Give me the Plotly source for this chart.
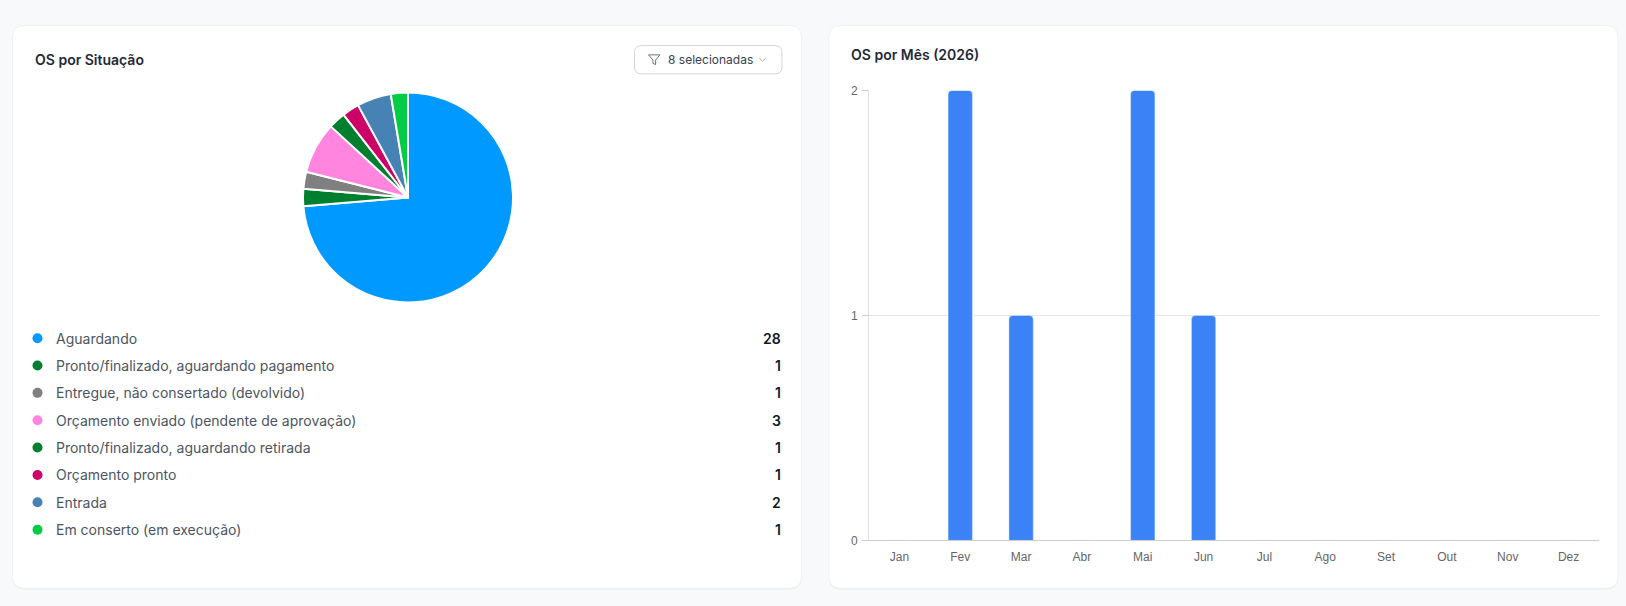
import plotly.graph_objects as go

# --- data ---
situacoes = [
    "Aguardando",
    "Pronto/finalizado, aguardando pagamento",
    "Entregue, não consertado (devolvido)",
    "Orçamento enviado (pendente de aprovação)",
    "Pronto/finalizado, aguardando retirada",
    "Orçamento pronto",
    "Entrada",
    "Em conserto (em execução)",
]
qtd_situacao = [28, 1, 1, 3, 1, 1, 2, 1]
cores_situacao = ["#0099ff", "#007f2e", "#808080", "#ff85de",
                  "#007f2e", "#cc0066", "#4682b4", "#00cc44"]

meses = ["Jan", "Fev", "Mar", "Abr", "Mai", "Jun",
         "Jul", "Ago", "Set", "Out", "Nov", "Dez"]
qtd_mes = [0, 2, 1, 0, 2, 1, 0, 0, 0, 0, 0, 0]

BG = "#f8f9fb"
W, H = 1626, 606


def px(x):
    return x / W


def py(y):
    # y in pixels from top
    return 1 - y / H


def rounded_rect(x0, y0, x1, y1, r):
    X = lambda v: f"{px(v):.6f}"
    Y = lambda v: f"{py(v):.6f}"
    return (f"M{X(x0+r)},{Y(y0)} L{X(x1-r)},{Y(y0)} Q{X(x1)},{Y(y0)} {X(x1)},{Y(y0+r)} "
            f"L{X(x1)},{Y(y1-r)} Q{X(x1)},{Y(y1)} {X(x1-r)},{Y(y1)} L{X(x0+r)},{Y(y1)} "
            f"Q{X(x0)},{Y(y1)} {X(x0)},{Y(y1-r)} L{X(x0)},{Y(y0+r)} Q{X(x0)},{Y(y0)} {X(x0+r)},{Y(y0)} Z")


fig = go.Figure()

# pie
fig.add_trace(go.Pie(
    labels=situacoes, values=qtd_situacao, sort=False, direction="clockwise",
    rotation=0, textinfo="none", hoverinfo="label+value",
    marker=dict(colors=cores_situacao, line=dict(color="white", width=2)),
    domain=dict(x=[px(300.5), px(515.5)], y=[py(302.5), py(87.5)]),
    showlegend=False,
))

# bars
fig.add_trace(go.Bar(
    x=meses, y=qtd_mes, marker=dict(color="#3b82f6", cornerradius=4),
    width=0.4, xaxis="x", yaxis="y", showlegend=False, hoverinfo="x+y",
))

# legend list of the pie (dots on a pixel overlay axis)
row_y = [339 + 28 * i for i in range(len(situacoes))]
fig.add_trace(go.Scatter(
    x=[37.5] * len(situacoes), y=row_y, mode="markers",
    marker=dict(color=cores_situacao, size=10),
    xaxis="x3", yaxis="y3", showlegend=False, hoverinfo="skip",
))

annotations = []
for nome, qtd, yy in zip(situacoes, qtd_situacao, row_y):
    annotations.append(dict(
        x=53.5, y=yy, xref="x3", yref="y3", text=nome, showarrow=False,
        xanchor="left", yanchor="middle",
        font=dict(family="Inter", size=14, color="#4b5563")))
    annotations.append(dict(
        x=783, y=yy, xref="x3", yref="y3", text=str(qtd), showarrow=False,
        xanchor="right", yanchor="middle",
        font=dict(family="Inter", size=14, color="#111827", weight=600)))

annotations += [
    dict(x=33, y=54, xref="x3", yref="y3", text="OS por Situação",
         showarrow=False, xanchor="left", yanchor="middle",
         font=dict(family="Inter", size=14, color="#1f2937", weight=600)),
    dict(x=849, y=49, xref="x3", yref="y3", text="OS por Mês (2026)",
         showarrow=False, xanchor="left", yanchor="middle",
         font=dict(family="Inter", size=14, color="#1f2937", weight=600)),
    dict(x=666, y=54, xref="x3", yref="y3", text="8 selecionadas",
         showarrow=False, xanchor="left", yanchor="middle",
         font=dict(family="Inter", size=12, color="#374151")),
]

shapes = []
for x0, x1 in [(12.5, 801.5), (829, 1618)]:
    # soft shadow, then the white card
    shapes.append(dict(type="path", xref="paper", yref="paper", layer="below",
                       path=rounded_rect(x0, 20, x1, 596.5, 12),
                       fillcolor="#eceef1", line=dict(width=0)))
    shapes.append(dict(type="path", xref="paper", yref="paper", layer="below",
                       path=rounded_rect(x0, 19, x1, 595, 12),
                       fillcolor="white", line=dict(color="#f0f1f4", width=1)))
shapes += [
    # filter button
    dict(type="path", xref="paper", yref="paper", layer="below",
         path=rounded_rect(634.5, 39.5, 782, 68.5, 7),
         fillcolor="white", line=dict(color="#d1d5db", width=1)),
    # funnel icon
    dict(type="path", xref="x3", yref="y3",
         path="M648.5,49 L660,49 L655.6,54.3 L655.6,59 L652.9,57.6 L652.9,54.3 Z",
         line=dict(color="#6b7280", width=1)),
    # chevron
    dict(type="path", xref="x3", yref="y3",
         path="M759.5,52.5 L762.5,55.5 L765.5,52.5",
         line=dict(color="#9ca3af", width=1)),
]

fig.update_layout(
    width=W, height=H, margin=dict(l=0, r=0, t=0, b=0),
    paper_bgcolor=BG, plot_bgcolor="rgba(0,0,0,0)",
    font=dict(family="Liberation Sans, Arial", size=12, color="#666666"),
    bargap=0.6,
    xaxis=dict(domain=[px(869), px(1599)], type="category",
               anchor="y", showgrid=False, showline=True,
               linecolor="#cccccc", linewidth=1, ticks="",
               ticklabelstandoff=5,
               tickfont=dict(family="Liberation Sans, Arial", size=12,
                             color="#666666"),
               fixedrange=True),
    yaxis=dict(domain=[py(546), py(85.4)], range=[0, 2], anchor="x",
               tickvals=[0, 1, 2], showgrid=True, gridcolor="#e6e6e6",
               zeroline=False, showline=True, linecolor="#e0e0e0",
               ticks="outside", ticklen=6, tickcolor="#cccccc",
               ticklabelstandoff=2,
               tickfont=dict(family="Liberation Sans, Arial", size=12,
                             color="#666666"),
               fixedrange=True),
    xaxis3=dict(domain=[0, 1], range=[0, W], visible=False, anchor="y3",
                fixedrange=True),
    yaxis3=dict(domain=[0, 1], range=[H, 0], visible=False,
                anchor="x3", fixedrange=True),
    annotations=annotations,
    shapes=shapes,
    hovermode="closest",
)

fig.write_html(
    "out.html",
    config={"displayModeBar": False},
    post_script="document.body.style.margin='0';"
                "document.body.style.background='" + BG + "';",
)
